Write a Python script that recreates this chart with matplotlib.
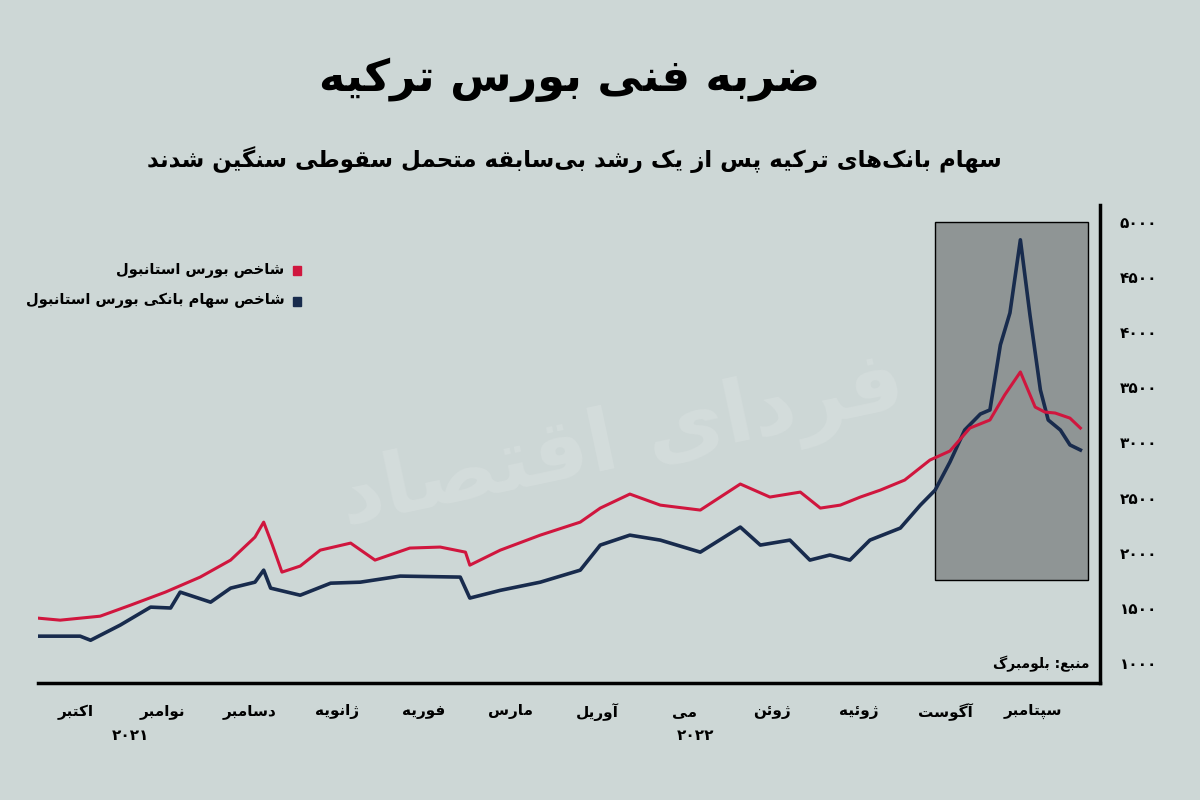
import matplotlib
matplotlib.use('Agg')
import matplotlib.pyplot as plt
from matplotlib.patches import Rectangle

# Persian text: matplotlib does no shaping, so pick presentation forms by hand
FORMS = {
    'ا': ('\uFE8D', '\uFE8E', None, None), 'آ': ('\uFE81', '\uFE82', None, None),
    'ب': ('\uFE8F', '\uFE90', '\uFE91', '\uFE92'), 'پ': ('\uFB56', '\uFB57', '\uFB58', '\uFB59'),
    'ت': ('\uFE95', '\uFE96', '\uFE97', '\uFE98'), 'ح': ('\uFEA1', '\uFEA2', '\uFEA3', '\uFEA4'),
    'خ': ('\uFEA5', '\uFEA6', '\uFEA7', '\uFEA8'), 'د': ('\uFEA9', '\uFEAA', None, None),
    'ر': ('\uFEAD', '\uFEAE', None, None), 'ز': ('\uFEAF', '\uFEB0', None, None),
    'ژ': ('\uFB8A', '\uFB8B', None, None), 'س': ('\uFEB1', '\uFEB2', '\uFEB3', '\uFEB4'),
    'ش': ('\uFEB5', '\uFEB6', '\uFEB7', '\uFEB8'), 'ص': ('\uFEB9', '\uFEBA', '\uFEBB', '\uFEBC'),
    'ض': ('\uFEBD', '\uFEBE', '\uFEBF', '\uFEC0'), 'ط': ('\uFEC1', '\uFEC2', '\uFEC3', '\uFEC4'),
    'ع': ('\uFEC9', '\uFECA', '\uFECB', '\uFECC'), 'ف': ('\uFED1', '\uFED2', '\uFED3', '\uFED4'),
    'ق': ('\uFED5', '\uFED6', '\uFED7', '\uFED8'), 'ک': ('\uFB8E', '\uFB8F', '\uFB90', '\uFB91'),
    'گ': ('\uFB92', '\uFB93', '\uFB94', '\uFB95'), 'ل': ('\uFEDD', '\uFEDE', '\uFEDF', '\uFEE0'),
    'م': ('\uFEE1', '\uFEE2', '\uFEE3', '\uFEE4'), 'ن': ('\uFEE5', '\uFEE6', '\uFEE7', '\uFEE8'),
    'ه': ('\uFEE9', '\uFEEA', '\uFEEB', '\uFEEC'), 'و': ('\uFEED', '\uFEEE', None, None),
    'ی': ('\uFBFC', '\uFBFD', '\uFBFE', '\uFBFF'), 'ئ': ('\uFE89', '\uFE8A', '\uFE8B', '\uFE8C'),
}


def fa(s):
    out = []
    for i, c in enumerate(s):
        if c not in FORMS:
            out.append('' if c == '\u200c' else c)
            continue
        prev = s[i - 1] if i > 0 else ''
        nxt = s[i + 1] if i + 1 < len(s) else ''
        join_prev = prev in FORMS and FORMS[prev][2] is not None
        join_next = FORMS[c][2] is not None and nxt in FORMS
        iso, fin, ini, med = FORMS[c]
        if join_prev and join_next:
            out.append(med)
        elif join_prev:
            out.append(fin)
        elif join_next:
            out.append(ini)
        else:
            out.append(iso)
    return ''.join(out)[::-1]


def fa_num(n):
    return str(n).translate(str.maketrans('0123456789', '۰۱۲۳۴۵۶۷۸۹'))


# x is in months from 1 Oct 2021
months = ['اکتبر', 'نوامبر', 'دسامبر', 'ژانویه', 'فوریه', 'مارس', 'آوریل',
          'می', 'ژوئن', 'ژوئیه', 'آگوست', 'سپتامبر']
bist_t = [0.07, 0.32, 0.78, 1.13, 1.53, 1.93, 2.28, 2.56, 2.66, 2.76, 2.87, 3.08, 3.31,
          3.66, 3.94, 4.34, 4.69, 4.98, 5.03, 5.38, 5.84, 6.30, 6.53, 6.87, 7.22, 7.68,
          8.14, 8.48, 8.83, 9.06, 9.29, 9.52, 9.75, 10.03, 10.32, 10.55, 10.78, 11.01,
          11.18, 11.36, 11.53, 11.64, 11.76, 11.93, 12.05]
bist = [1408, 1390, 1426, 1526, 1644, 1780, 1934, 2142, 2278, 2070, 1825, 1880, 2024,
        2088, 1934, 2043, 2052, 2006, 1888, 2024, 2160, 2278, 2405, 2532, 2432, 2387,
        2623, 2505, 2550, 2405, 2432, 2505, 2568, 2659, 2840, 2922, 3130, 3203,
        3430, 3638, 3320, 3275, 3266, 3220, 3130]
bank_t = [0.07, 0.55, 0.67, 1.01, 1.36, 1.59, 1.70, 2.05, 2.28, 2.56, 2.66, 2.74, 3.08,
          3.43, 3.77, 4.23, 4.92, 5.03, 5.38, 5.84, 6.30, 6.53, 6.87, 7.22, 7.68, 8.14,
          8.37, 8.71, 8.94, 9.17, 9.40, 9.63, 9.98, 10.21, 10.38, 10.55, 10.72, 10.90,
          11.01, 11.13, 11.24, 11.36, 11.47, 11.59, 11.68, 11.82, 11.93, 12.05]
bank = [1245, 1245, 1208, 1345, 1508, 1500, 1644, 1553, 1680, 1734, 1843, 1680, 1616,
        1725, 1734, 1789, 1780, 1590, 1660, 1734, 1843, 2070, 2160, 2115, 2006, 2233,
        2070, 2115, 1934, 1980, 1934, 2115, 2224, 2432, 2568, 2822, 3112, 3257,
        3294, 3883, 4173, 4835, 4155, 3475, 3203, 3112, 2977, 2931]
yticks = [1000, 1500, 2000, 2500, 3000, 3500, 4000, 4500, 5000]

bg = '#cdd7d6'
red = '#d0163e'
navy = '#182b4d'
plt.rcParams['font.family'] = ['DejaVu Sans']

fig = plt.figure(figsize=(12, 8), dpi=100, facecolor=bg)
ax = fig.add_axes([0.032, 0.146, 0.885, 0.598], facecolor=bg)
ax.set_xlim(0.07, 12.28)
ax.set_ylim(819, 5152)

ax.add_patch(Rectangle((10.38, 1752), 1.76, 3248, facecolor='#8f9595', edgecolor='black', lw=1, zorder=1))
ax.plot(bist_t, bist, color=red, lw=2.2, zorder=3)
ax.plot(bank_t, bank, color=navy, lw=2.6, zorder=2)

for s in ['top', 'left']:
    ax.spines[s].set_visible(False)
for s in ['right', 'bottom']:
    ax.spines[s].set_linewidth(2.5)
ax.yaxis.tick_right()
ax.set_yticks(yticks)
ax.set_yticklabels([fa_num(v) for v in yticks], fontsize=11, fontweight='bold')
ax.tick_params(axis='y', length=0, pad=14)
ax.set_xticks([])

xt = ax.get_xaxis_transform()
for i, m in enumerate(months):
    ax.text(i + 0.5, -0.06, fa(m), transform=xt, ha='center', va='center', fontsize=11, fontweight='bold')
ax.text(1.13, -0.11, fa_num(2021), transform=xt, ha='center', va='center', fontsize=11, fontweight='bold')
ax.text(7.63, -0.11, fa_num(2022), transform=xt, ha='center', va='center', fontsize=11, fontweight='bold')

ax.text(0.99, 0.04, fa('منبع: بلومبرگ'), transform=ax.transAxes, ha='right', va='center',
        fontsize=10, fontweight='bold')

# watermark
ax.text(0.55, 0.5, fa('فردای اقتصاد'), transform=ax.transAxes, ha='center', va='center',
        fontsize=62, fontweight='bold', color='white', alpha=0.13, rotation=12, zorder=0)

fig.text(0.475, 0.9, fa('ضربه فنی بورس ترکیه'), ha='center', va='center', fontsize=32, fontweight='bold')
fig.text(0.479, 0.8, fa('سهام بانک\u200cهای ترکیه پس از یک رشد بی\u200cسابقه متحمل سقوطی سنگین شدند'),
         ha='center', va='center', fontsize=16.5, fontweight='bold')

fig.text(0.237, 0.662, fa('شاخص بورس استانبول'), ha='right', va='center', fontsize=10.5, fontweight='bold')
fig.text(0.237, 0.624, fa('شاخص سهام بانکی بورس استانبول'), ha='right', va='center', fontsize=10.5, fontweight='bold')
fig.patches.append(Rectangle((0.244, 0.656), 0.007, 0.011, color=red, transform=fig.transFigure))
fig.patches.append(Rectangle((0.244, 0.618), 0.007, 0.011, color=navy, transform=fig.transFigure))

fig.savefig('out.png', dpi=100, facecolor=bg)
